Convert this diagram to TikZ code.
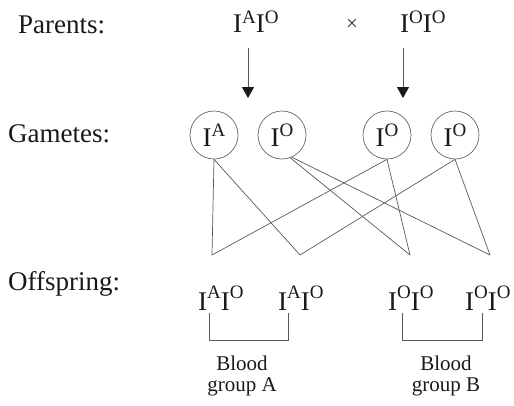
\documentclass[tikz,border=0pt]{standalone}
\usepackage{fontspec}
\setmainfont{Liberation Serif}
\usetikzlibrary{arrows.meta}
\newcommand\gsup[2][10pt]{\raisebox{#1}{\fontsize{19}{19}\selectfont #2}}
\begin{document}
\begin{tikzpicture}[x=1pt,y=-1pt,
  lab/.style={inner sep=0pt, anchor=base west, font=\fontsize{27}{30}\selectfont, text=black!90},
  gam/.style={circle, draw=black!60, line width=0.7pt, minimum size=48pt, inner sep=0pt, font=\fontsize{27}{30}\selectfont, text=black!90},
  ln/.style={draw=black!65, line width=0.7pt},
  arr/.style={draw=black!65, line width=0.8pt, -{Triangle[width=12pt,length=11pt,color=black!90]}},
  note/.style={inner sep=0pt, align=center, font=\fontsize{21}{21.5}\selectfont, text=black!90}]
\useasboundingbox (0,0) rectangle (514,405);
% row labels
\node[lab] (parents) at (18,33) {Parents:};
\node[lab] (gametes) at (8,142) {Gametes:};
\node[lab] (offspring) at (8,290) {Offspring:};
% parents
\node[lab] (p1) at (233,32) {I\gsup[9pt]{A}I\gsup[9pt]{O}};
\node[inner sep=0pt, font=\fontsize{21}{21}\selectfont, text=black!80] (cross) at (352,25) {×};
\node[lab] (p2) at (400,32) {I\gsup[9pt]{O}I\gsup[9pt]{O}};
% arrows
\coordinate (a1s) at (248,48); \coordinate (a1e) at (248,98);
\coordinate (a2s) at (403,48); \coordinate (a2e) at (403,98);
\draw[arr] (a1s) -- (a1e);
\draw[arr] (a2s) -- (a2e);
% gametes
\node[gam] (g1) at (214,135) {I\gsup{A}};
\node[gam] (g2) at (282,135) {I\gsup{O}};
\node[gam] (g3) at (387,135) {I\gsup{O}};
\node[gam] (g4) at (455,135) {I\gsup{O}};
% meeting points
\coordinate (m1) at (212,255);
\coordinate (m2) at (300,255);
\coordinate (m3) at (410,255);
\coordinate (m4) at (490,255);
\draw[ln] (g1.south) -- (m1);
\draw[ln] (g1.south) -- (m2);
\draw[ln] (g2.-70) -- (m3);
\draw[ln] (g2.-66) -- (m4);
\draw[ln] (g3.south) -- (m1);
\draw[ln] (g3.south) -- (m3);
\draw[ln] (g4.south) -- (m2);
\draw[ln] (g4.south) -- (m4);
% offspring
\node[lab] (o1) at (198,310) {I\gsup[12pt]{A}I\gsup[12pt]{O}};
\node[lab] (o2) at (278,310) {I\gsup[12pt]{A}I\gsup[12pt]{O}};
\node[lab] (o3) at (388,310) {I\gsup[12pt]{O}I\gsup[12pt]{O}};
\node[lab] (o4) at (465,310) {I\gsup[12pt]{O}I\gsup[12pt]{O}};
% brackets
\coordinate (ka1) at (209,313); \coordinate (ka2) at (288,313);
\coordinate (kb1) at (402,313); \coordinate (kb2) at (482,313);
\draw[ln] (ka1) -- ++(0,27) -| (ka2);
\draw[ln] (kb1) -- ++(0,27) -| (kb2);
% notes
\node[note] (bga) at (242,376) {Blood\\group A};
\node[note] (bgb) at (446,376) {Blood\\group B};
\end{tikzpicture}
\end{document}
